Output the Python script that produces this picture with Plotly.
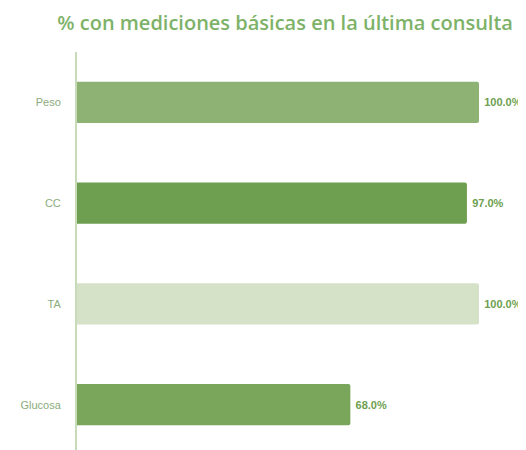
import plotly.graph_objects as go

categories = ["Peso", "CC", "TA", "Glucosa"]
values = [100.0, 97.0, 100.0, 68.0]
colors = ["#8db274", "#6e9f50", "#d5e2c8", "#7aa65c"]
labels = [f"\u2009{v:.1f}%" for v in values]

fig = go.Figure(go.Bar(
    x=values, y=categories, orientation="h",
    marker=dict(color=colors, line=dict(width=0)),
    width=0.41,
    text=labels, textposition="outside", cliponaxis=False,
    constraintext="none",
    textfont=dict(family="Liberation Sans, Arial", size=11, color="#6e9f50", weight="bold"),
))

# page body has an 8px default margin, so the figure is sized to fit the window
fig.update_layout(
    width=518, height=442,
    margin=dict(l=69, r=47, t=44, b=0, autoexpand=False),
    paper_bgcolor="white", plot_bgcolor="white",
    barcornerradius=2,
    showlegend=False,
    uniformtext=dict(minsize=11, mode="show"),
    title=dict(text="% con mediciones básicas en la última consulta",
               x=0.535, xanchor="center", y=0.966, yanchor="middle",
               font=dict(family="Open Sans", size=20, color="#7db268", weight=600)),
    xaxis=dict(range=[0, 100], visible=False, fixedrange=True, automargin=False),
    yaxis=dict(categoryorder="array", categoryarray=categories,
               range=[3.45, -0.5], showgrid=False, zeroline=False,
               showline=True, linecolor="#c8dbb8", linewidth=2,
               ticks="", ticklabelstandoff=12, automargin=False,
               tickfont=dict(family="Liberation Sans, Arial", size=11, color="#8aab7a")),
)

fig.write_html("out.html")
